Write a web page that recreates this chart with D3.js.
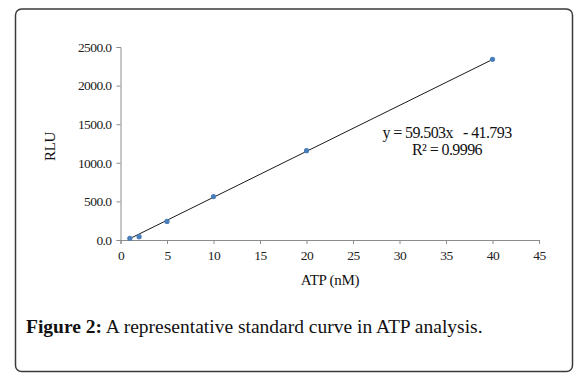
<!DOCTYPE html>
<html><head><meta charset="utf-8">
<script src="https://cdn.jsdelivr.net/npm/d3@7/dist/d3.min.js"></script>
<style>body{margin:0;background:#fff}svg{display:block}</style>
</head><body>
<svg id="c" width="586" height="384"></svg>
<script>
const atp = [1, 2, 5, 10, 20, 40];
const rlu = [22, 43, 240, 563, 1157, 2340];
const xTicks = [0, 5, 10, 15, 20, 25, 30, 35, 40, 45];
const yTicks = [0, 500, 1000, 1500, 2000, 2500];
const slope = 59.503, intercept = -41.793;
const eqText = "y = 59.503x   - 41.793";
const r2Text = "R² = 0.9996";

const svg = d3.select("#c");
svg.append("rect").attr("x",15.5).attr("y",9).attr("width",557).attr("height",362.5)
  .attr("rx",6).attr("fill","#fff").attr("stroke","#3a3a3a").attr("stroke-width",1.5);

const x = d3.scaleLinear().domain([0,45]).range([120.5,539]);
const y = d3.scaleLinear().domain([0,2500]).range([240,47]);
const font = "'Liberation Serif', 'Times New Roman', serif";

const gx = svg.append("g").attr("transform",`translate(0,${y(0)})`)
  .call(d3.axisBottom(x).tickValues(xTicks).tickSize(4).tickPadding(6).tickFormat(d3.format("d")));
const gy = svg.append("g").attr("transform",`translate(${x(0)},0)`)
  .call(d3.axisLeft(y).tickValues(yTicks).tickSize(4).tickPadding(5).tickFormat(d3.format(".1f")));
[gx,gy].forEach(g=>{
  g.select(".domain").attr("stroke","#8c8c8c");
  g.selectAll(".tick line").attr("stroke","#8c8c8c");
  g.selectAll("text").attr("fill","#222").style("font-family",font).style("font-size","13.5px").style("letter-spacing","-0.6px");
});

const line = d3.line().x(d=>x(d)).y(d=>y(slope*d+intercept));
svg.append("path").datum([d3.min(atp), d3.max(atp)]).attr("d",line)
  .attr("stroke","#1a1a1a").attr("stroke-width",1).attr("fill","none");

svg.selectAll("circle.pt").data(atp).join("circle").attr("class","pt")
  .attr("cx",d=>x(d)).attr("cy",(d,i)=>y(rlu[i])).attr("r",2.6).attr("fill","#4a7ebb");

svg.append("text").attr("x",447).attr("y",138).attr("text-anchor","middle")
  .style("font-family",font).style("font-size","16px").style("letter-spacing","-0.6px").attr("fill","#111")
  .style("white-space","pre").attr("xml:space","preserve").text(eqText);
svg.append("text").attr("x",447).attr("y",155).attr("text-anchor","middle")
  .style("font-family",font).style("font-size","16px").style("letter-spacing","-0.6px").attr("fill","#111").text(r2Text);

svg.append("text").attr("transform","translate(55,146.5) rotate(-90)").attr("text-anchor","middle")
  .style("font-family",font).style("font-size","15px").style("letter-spacing","-0.4px").attr("fill","#111").text("RLU");
svg.append("text").attr("x",330).attr("y",285).attr("text-anchor","middle")
  .style("font-family",font).style("font-size","15px").style("letter-spacing","-0.3px").attr("fill","#111").text("ATP (nM)");

const cap = svg.append("text").attr("x",26).attr("y",333)
  .style("font-family",font).style("font-size","19.5px").attr("fill","#111");
cap.append("tspan").style("font-weight","bold").text("Figure 2:");
cap.append("tspan").text(" A representative standard curve in ATP analysis.");
</script>
</body></html>
